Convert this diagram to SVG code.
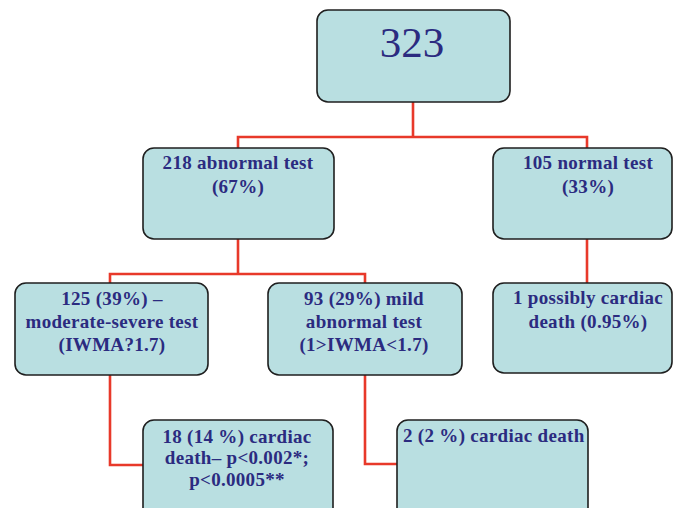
<svg xmlns="http://www.w3.org/2000/svg" width="673" height="508" viewBox="0 0 673 508">
<style>
.box{fill:#b9dfe1;stroke:#1f1f1f;stroke-width:1.6}
.t{font-family:"Liberation Serif","Times New Roman",serif;font-weight:bold;font-size:19px;fill:#2b2b80;text-anchor:middle;letter-spacing:0.3px}
.big{font-family:"Liberation Serif","Times New Roman",serif;font-size:43px;fill:#2b2b80;text-anchor:middle}
.c{fill:none;stroke:#e8392a;stroke-width:2.6}
</style>
<rect width="673" height="508" fill="#ffffff"/>
<g id="connectors">
<path class="c" d="M413,102 V137"/>
<path class="c" d="M238,148 V137 H587 V148"/>
<path class="c" d="M238,239 V274"/>
<path class="c" d="M110,283 V274 H365 V283"/>
<path class="c" d="M587,239 V283"/>
<path class="c" d="M110,375 V465 H143"/>
<path class="c" d="M365,375 V464 H397"/>
</g>
<g id="n323">
<rect class="box" x="317" y="10" width="193" height="92" rx="11"/>
<text class="big" x="412" y="57">323</text>
</g>
<g id="n218">
<rect class="box" x="143" y="148" width="191" height="91" rx="11"/>
<text class="t" x="238" y="169">218 abnormal test</text>
<text class="t" x="238" y="193">(67%)</text>
</g>
<g id="n105">
<rect class="box" x="493" y="148" width="179" height="91" rx="11"/>
<text class="t" x="588" y="169">105 normal test</text>
<text class="t" x="588" y="193">(33%)</text>
</g>
<g id="n125">
<rect class="box" x="15" y="283" width="193" height="92" rx="11"/>
<text class="t" x="112" y="305">125 (39%) –</text>
<text class="t" x="112" y="328">moderate-severe test</text>
<text class="t" x="112" y="351">(IWMA?1.7)</text>
</g>
<g id="n93">
<rect class="box" x="268" y="283" width="194" height="92" rx="11"/>
<text class="t" x="364" y="305">93 (29%) mild</text>
<text class="t" x="364" y="328">abnormal test</text>
<text class="t" x="364" y="351">(1&gt;IWMA&lt;1.7)</text>
</g>
<g id="n1">
<rect class="box" x="493" y="283" width="179" height="90" rx="11"/>
<text class="t" x="588" y="304">1 possibly cardiac</text>
<text class="t" x="588" y="328">death (0.95%)</text>
</g>
<g id="n18">
<rect class="box" x="143" y="420" width="190" height="100" rx="11"/>
<text class="t" x="237" y="443">18 (14 %) cardiac</text>
<text class="t" x="237" y="464">death– p&lt;0.002*;</text>
<text class="t" x="237" y="486">p&lt;0.0005**</text>
</g>
<g id="n2">
<rect class="box" x="397" y="420" width="191" height="100" rx="11"/>
<text class="t" x="403" y="442" style="text-anchor:start">2 (2 %) cardiac death</text>
</g>
</svg>
